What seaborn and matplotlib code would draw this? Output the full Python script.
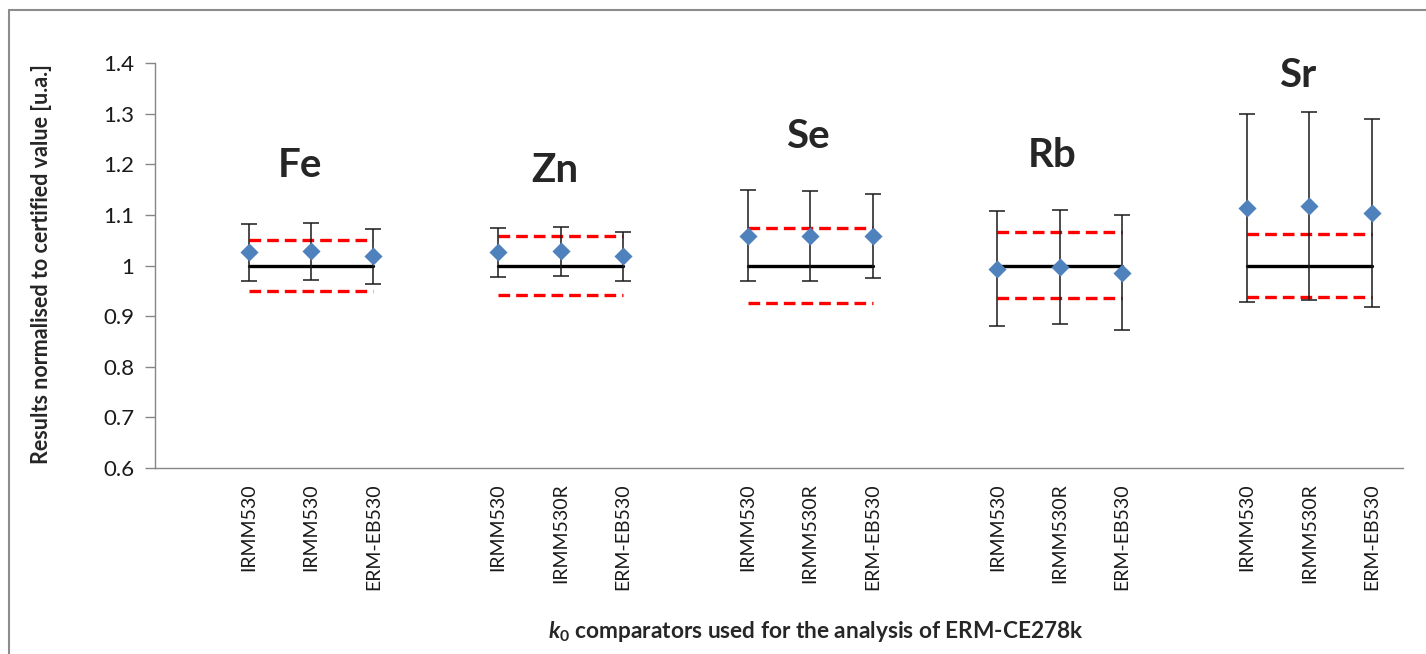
import numpy as np
import pandas as pd
import seaborn as sns
import matplotlib.pyplot as plt
from matplotlib.lines import Line2D

# data
elements = ["Fe", "Zn", "Se", "Rb", "Sr"]
comparators = [
    ["IRMM530", "IRMM530", "ERM-EB530"],
    ["IRMM530", "IRMM530R", "ERM-EB530"],
    ["IRMM530", "IRMM530R", "ERM-EB530"],
    ["IRMM530", "IRMM530R", "ERM-EB530"],
    ["IRMM530", "IRMM530R", "ERM-EB530"],
]
results = [
    [1.026, 1.028, 1.018],
    [1.026, 1.028, 1.018],
    [1.059, 1.059, 1.059],
    [0.994, 0.997, 0.986],
    [1.114, 1.117, 1.104],
]
uncertainty = [
    [0.056, 0.056, 0.055],
    [0.049, 0.049, 0.048],
    [0.090, 0.089, 0.083],
    [0.113, 0.112, 0.114],
    [0.186, 0.186, 0.186],
]
certified = [1.0, 1.0, 1.0, 1.0, 1.0]
cert_upper = [1.050, 1.058, 1.075, 1.066, 1.063]
cert_lower = [0.949, 0.942, 0.926, 0.935, 0.937]
label_pos = [(1.82, 1.198), (5.91, 1.188), (9.97, 1.254), (13.87, 1.218), (17.82, 1.376)]

# build a long table: each element takes 4 slots (one empty + 3 comparators)
rows = []
tick_labels = []
for g, el in enumerate(elements):
    tick_labels.append("")
    for j, comp in enumerate(comparators[g]):
        tick_labels.append(comp)
        rows.append({"element": el, "comparator": comp, "pos": 4 * g + 1 + j,
                     "value": results[g][j], "err": uncertainty[g][j]})
df = pd.DataFrame(rows)

sns.set_style("white")
plt.rcParams['font.family'] = ['Lato', 'DejaVu Sans']
plt.rcParams['mathtext.fontset'] = 'custom'
plt.rcParams['mathtext.it'] = 'Lato:bold:italic'
plt.rcParams['mathtext.rm'] = 'Lato:bold'

fig = plt.figure(figsize=(14.26, 6.54), dpi=100)
ax = fig.add_axes([155 / 1426, 1 - 468 / 654, (1403 - 155) / 1426, (468 - 63) / 654])

# certified value and its uncertainty band per element
for g, el in enumerate(elements):
    sub = df[df["element"] == el]
    xs = [sub["pos"].min(), sub["pos"].max()]
    ax.plot(xs, [certified[g]] * 2, color="black", lw=2.4, zorder=2)
    ax.plot(xs, [cert_upper[g]] * 2, color="#ff0000", lw=2.4, ls=(0, (3.5, 1.8)), zorder=2)
    ax.plot(xs, [cert_lower[g]] * 2, color="#ff0000", lw=2.4, ls=(0, (3.5, 1.8)), zorder=2)

ax.errorbar(df["pos"], df["value"], yerr=df["err"], fmt="none", ecolor="#1a1a1a",
            elinewidth=1.1, capsize=6, capthick=1.1, zorder=3)
sns.scatterplot(data=df, x="pos", y="value", marker="D", s=85, color="#4f81bd",
                edgecolor="#4f81bd", linewidth=0, ax=ax, zorder=4, legend=False)

for g, el in enumerate(elements):
    ax.text(label_pos[g][0], label_pos[g][1], el, ha="center", va="center",
            fontsize=29, fontweight="bold")

ax.set_xlim(-0.5, 19.5)
ax.set_ylim(0.6, 1.4)
ax.set_yticks(np.arange(0.6, 1.41, 0.1))
ax.set_yticklabels(["0.6", "0.7", "0.8", "0.9", "1", "1.1", "1.2", "1.3", "1.4"])
ax.set_xticks(range(20))
ax.set_xticklabels(tick_labels, rotation=90)
ax.set_xticks(np.arange(-0.5, 19.6, 1), minor=True)
ax.tick_params(axis="x", which="major", length=0, pad=11, labelsize=14, colors="#1a1a1a")
ax.tick_params(axis="x", which="minor", length=7, width=1, color="#868686", direction="out")
ax.tick_params(axis="y", length=7, width=1, color="#868686", direction="out",
               labelsize=16, pad=8, labelcolor="#1a1a1a")
ax.tick_params(bottom=True, left=True)
for s in ["top", "right"]:
    ax.spines[s].set_visible(False)
for s in ["left", "bottom"]:
    ax.spines[s].set_color("#868686")
    ax.spines[s].set_linewidth(1)

ax.set_xlabel("")
ax.set_ylabel("")
fig.text(42 / 1426, 1 - 264 / 654, "Results normalised to certified value [u.a.]",
         rotation=90, ha="center", va="center", fontsize=15.5, fontweight="bold")
fig.text(816 / 1426, 1 - 632 / 654, r"$k_0$ comparators used for the analysis of ERM-CE278k",
         ha="center", va="center", fontsize=16.3, fontweight="bold")

# chart area border (only top and left visible in the reference)
fig.add_artist(Line2D([9 / 1426, 9 / 1426], [0, 1 - 10 / 654], color="#8c8c8c", lw=1.5))
fig.add_artist(Line2D([9 / 1426, 1], [1 - 10 / 654, 1 - 10 / 654], color="#8c8c8c", lw=1.5))

fig.savefig("out.png", dpi=100)
